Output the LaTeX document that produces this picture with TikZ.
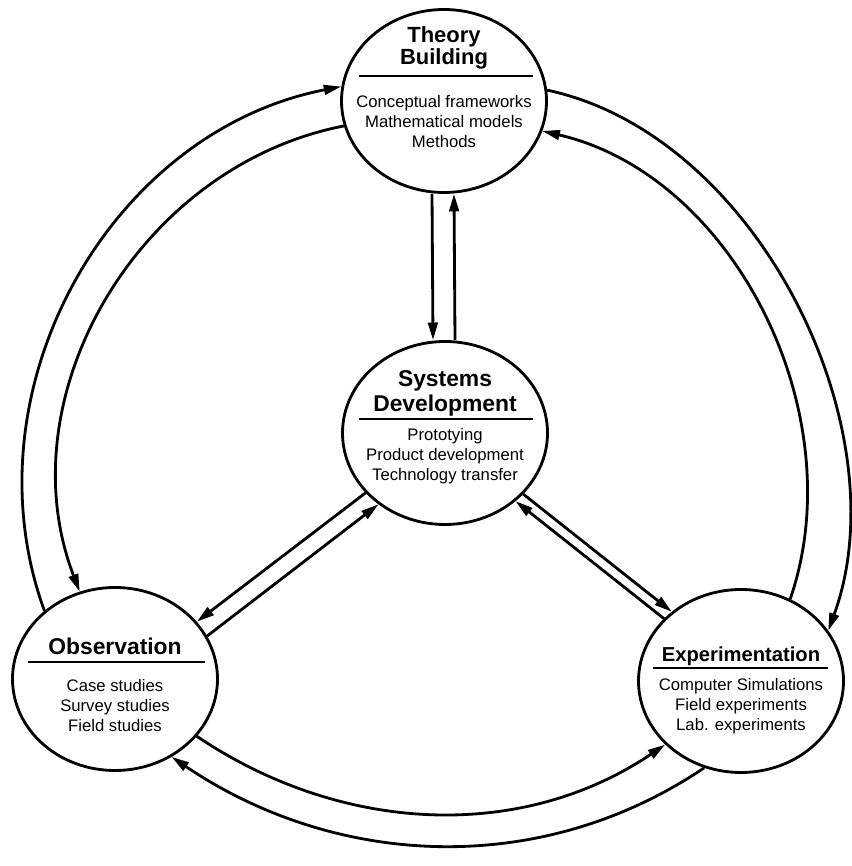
\documentclass[tikz,border=0pt]{standalone}
\usepackage{fontspec}
\setmainfont{Liberation Sans}
\usetikzlibrary{arrows.meta,shapes.geometric}
\tikzset{
  cyc/stage/.style={draw, ellipse, line width=1.6pt, minimum width=4.1cm, minimum height=3.66cm, inner sep=0pt},
  cyc/head/.style={font=\fontsize{12.5}{12.5}\selectfont\bfseries, align=center, inner sep=0pt, anchor=south},
  cyc/body/.style={font=\fontsize{9.5}{11.4}\selectfont, align=center, inner sep=0pt, anchor=north},
  cyc/rule/.style={line width=1.1pt},
  cyc/flow/.style={line width=1.6pt, -{Triangle[length=10pt,width=5.5pt]}}
}

\begin{document}
\begin{tikzpicture}
  \useasboundingbox (0,0) rectangle (17.02,17.32);
  % the four stages
  \node[cyc/stage] (theory) at (8.88,15.30) {};
  \node[cyc/stage] (sys) at (8.90,8.66) {};
  \node[cyc/stage] (obs) at (2.30,3.74) {};
  \node[cyc/stage] (exp) at (14.82,3.70) {};
  % texts
  \node[cyc/head] (theoryhead) at ([yshift=0.63cm]theory.center) {Theory\\Building};
  \draw[cyc/rule] ([shift={(-1.70,0.50)}]theory.center) -- ([shift={(1.78,0.50)}]theory.center);
  \node[cyc/body] (theorybody) at ([yshift=0.12cm]theory.center) {Conceptual frameworks\\Mathematical models\\Methods};
  \node[cyc/head, font=\fontsize{13}{14.2}\selectfont\bfseries] (syshead) at ([yshift=0.33cm]sys.center) {Systems\\Development};
  \draw[cyc/rule] ([shift={(-1.72,0.28)}]sys.center) -- ([shift={(1.76,0.28)}]sys.center);
  \node[cyc/body] (sysbody) at ([yshift=0.10cm]sys.center) {Prototying\\Product development\\Technology transfer};
  \node[cyc/head, font=\fontsize{13}{14}\selectfont\bfseries] (obshead) at ([yshift=0.48cm]obs.center) {Observation};
  \draw[cyc/rule] ([shift={(-1.74,0.34)}]obs.center) -- ([shift={(1.80,0.34)}]obs.center);
  \node[cyc/body] (obsbody) at ([yshift=0.0cm]obs.center) {Case studies\\Survey studies\\Field studies};
  \node[cyc/head, font=\fontsize{11.5}{12}\selectfont\bfseries] (exphead) at ([yshift=0.30cm]exp.center) {Experimentation};
  \draw[cyc/rule] ([shift={(-1.76,0.26)}]exp.center) -- ([shift={(1.74,0.26)}]exp.center);
  \node[cyc/body] (expbody) at ([yshift=0.06cm]exp.center) {Computer Simulations\\Field experiments\\Lab. experiments};
  % theory <-> systems
  \draw[cyc/flow] ([xshift=-0.24cm]theory.south) -- ([xshift=-0.24cm]sys.north);
  \draw[cyc/flow] ([xshift=0.20cm]sys.north) -- ([xshift=0.20cm]theory.south);
  % systems <-> observation, systems <-> experimentation
  \draw[cyc/flow] (sys.217) -- (obs.35);
  \draw[cyc/flow] (obs.25) -- (sys.227);
  \draw[cyc/flow] (sys.322) -- (exp.135);
  \draw[cyc/flow] (exp.141) -- (sys.316);
  % outer ring
  \draw[cyc/flow] (obs.136) to[out=110, in=191] (theory.172);
  \draw[cyc/flow] (theory.194) to[out=191, in=111] (obs.112);
  \draw[cyc/flow] (theory.6) to[out=-12, in=70, looseness=0.9] (exp.30);
  \draw[cyc/flow] (exp.59) to[out=71, in=-13, looseness=0.95] (theory.343);
  \draw[cyc/flow] (exp.247) to[out=214, in=326, looseness=0.95] (obs.306);
  \draw[cyc/flow] (obs.325) to[out=-34, in=214, looseness=0.95] (exp.220);
\end{tikzpicture}
\end{document}
